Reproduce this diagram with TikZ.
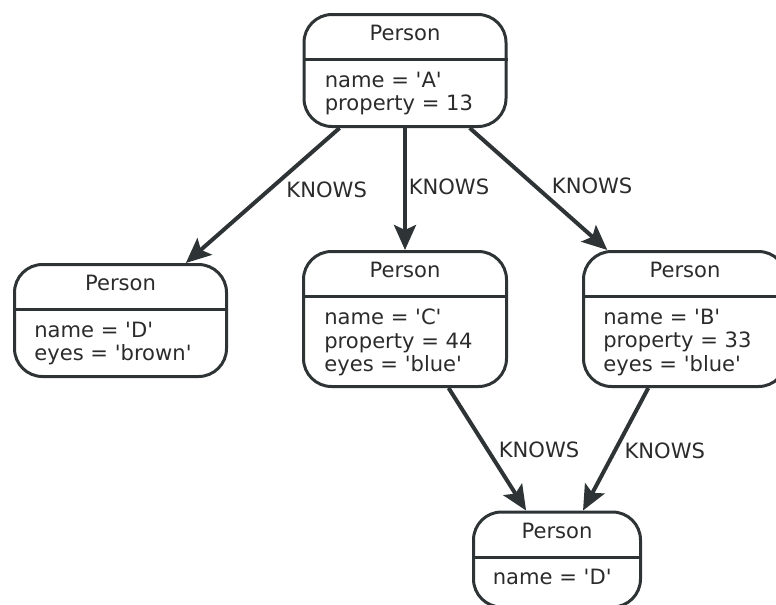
\documentclass[tikz,border=0pt]{standalone}
\usepackage{fontspec}
\setmainfont{DejaVu Sans}[Ligatures=TeXOff]
\usetikzlibrary{arrows.meta,calc}
\definecolor{graphline}{HTML}{2E3436}
\definecolor{graphtext}{HTML}{2B2B2B}

\begin{document}
\begin{tikzpicture}[>={Stealth[length=.5cm,width=.44cm,inset=.1cm]},
  font=\fontsize{12}{13.4}\selectfont,
  person/.style={draw=graphline,line width=.06cm,rounded corners=.56cm,inner sep=0},
  title/.style={anchor=base,text=graphtext,inner sep=0},
  props/.style={anchor=north west,align=left,text=graphtext,inner sep=0},
  divider/.style={graphline,line width=.06cm},
  knows/.style={->,graphline,line width=.08cm},
  rel/.style={text=graphtext,inner sep=1pt}]
\useasboundingbox (0,0) rectangle (15.52,-12.08);
\clip (0,0) rectangle (15.52,-12.08);
% the five Person boxes
\node[person,minimum width=4.04cm,minimum height=2.24cm] (a) at (8.10,-1.41) {};
\node[person,minimum width=4.24cm,minimum height=2.24cm] (d1) at (2.41,-6.41) {};
\node[person,minimum width=4.06cm,minimum height=2.70cm] (c) at (8.10,-6.38) {};
\node[person,minimum width=4.06cm,minimum height=2.70cm] (b) at (13.70,-6.38) {};
\node[person,minimum width=3.34cm,minimum height=1.90cm] (d2) at (11.14,-11.19) {};
% headers and dividers
\foreach \p in {a,d1,c,b,d2}{
  \node[title] at ([yshift=-.55cm]\p.north) {Person};
  \draw[divider] ([yshift=-.93cm]\p.north west) -- ([yshift=-.93cm]\p.north east);
}
% properties
\node[props] at ([xshift=.44cm,yshift=-1.17cm]a.north west) {name = 'A'\\property = 13};
\node[props] at ([xshift=.42cm,yshift=-1.17cm]d1.north west) {name = 'D'\\eyes = 'brown'};
\node[props] at ([xshift=.44cm,yshift=-1.17cm]c.north west) {name = 'C'\\property = 44\\eyes = 'blue'};
\node[props] at ([xshift=.42cm,yshift=-1.17cm]b.north west) {name = 'B'\\property = 33\\eyes = 'blue'};
\node[props] at ([xshift=.41cm,yshift=-1.17cm]d2.north west) {name = 'D'};
% relationships
\draw[knows] (a) -- node[rel,pos=.37,anchor=north west] {KNOWS} (d1);
\draw[knows] (a) -- node[rel,pos=.48,anchor=west] {KNOWS} (c);
\draw[knows] (a) -- node[rel,pos=.57,anchor=south west] {KNOWS} (b);
\draw[knows] (c) -- node[rel,pos=.60,anchor=south west] {KNOWS} (d2);
\draw[knows] (b) -- node[rel,pos=.42,anchor=north west] {KNOWS} (d2);
\end{tikzpicture}
\end{document}
